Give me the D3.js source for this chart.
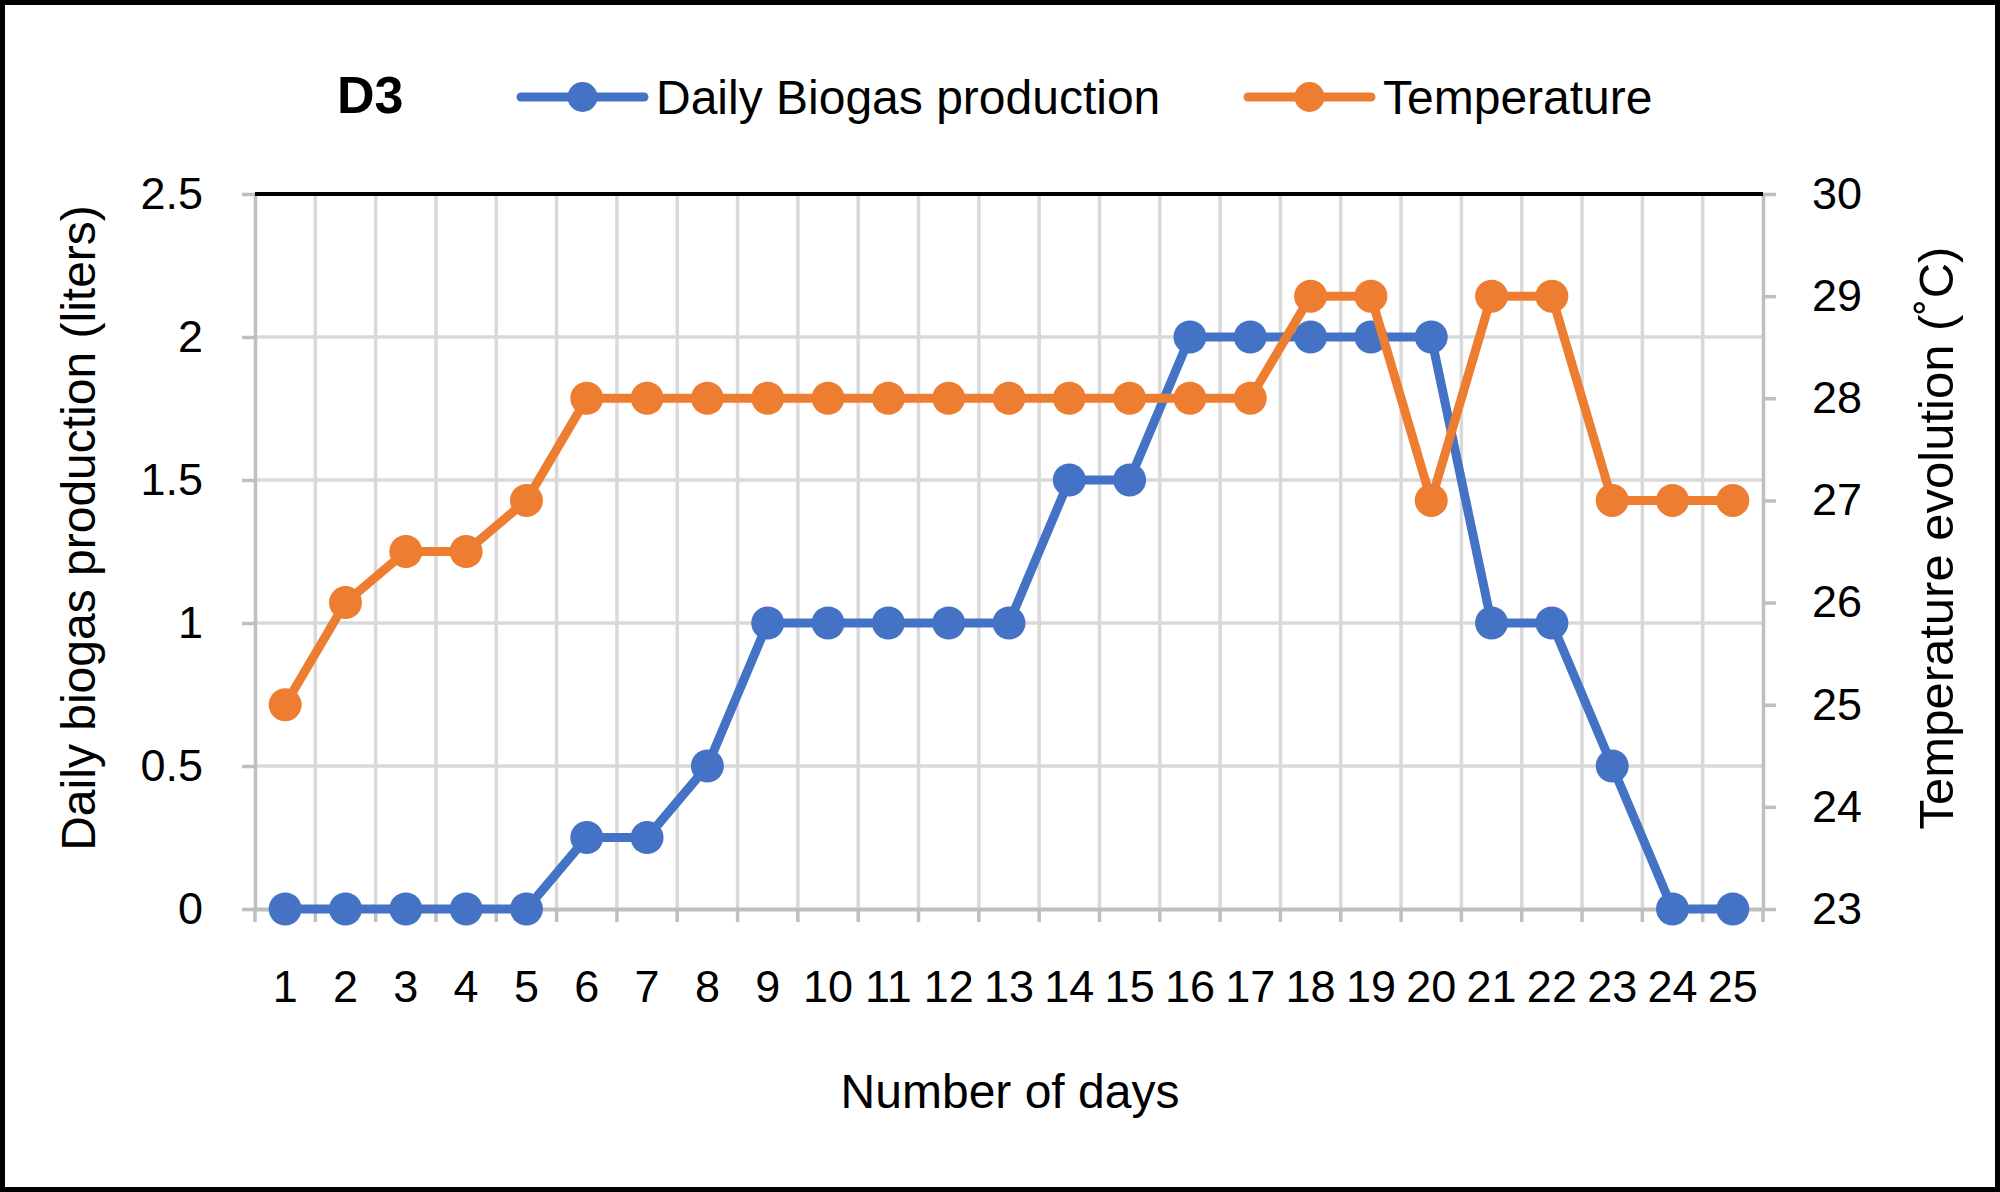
<!DOCTYPE html>
<html><head><meta charset="utf-8">
<script src="https://cdn.jsdelivr.net/npm/d3@7"></script>
<style>
html,body{margin:0;padding:0;background:#fff;}
svg{display:block;font-family:"Liberation Sans",Arial,sans-serif;}
</style></head>
<body>
<svg id="chart" width="2000" height="1192"></svg>
<script>
const days = ["1","2","3","4","5","6","7","8","9","10","11","12","13","14","15","16","17","18","19","20","21","22","23","24","25"];
const biogas = [0,0,0,0,0,0.25,0.25,0.5,1,1,1,1,1,1.5,1.5,2,2,2,2,2,1,1,0.5,0,0];
const temperature = [25,26,26.5,26.5,27,28,28,28,28,28,28,28,28,28,28,28,28,29,29,27,29,29,27,27,27];
const leftTicks = [0,0.5,1,1.5,2,2.5];
const rightTicks = [23,24,25,26,27,28,29,30];
const seriesNames = ["Daily Biogas production","Temperature"];
const chartTitle = "D3";
const xTitle = "Number of days";
const yLeftTitle = "Daily biogas production (liters)";
const yRightTitle = "Temperature evolution (˚C)";

const BLUE = "#4472C4", ORANGE = "#ED7D31";
const L = 255, R = 1763, T = 194, B = 909;
const svg = d3.select("#chart");

svg.append("rect").attr("x",2.5).attr("y",2.5).attr("width",1995).attr("height",1187)
  .attr("fill","#fff").attr("stroke","#000").attr("stroke-width",5);

const x = d3.scaleBand().domain(days).range([L,R]).padding(0);
const bw = x.bandwidth();
const y1 = d3.scaleLinear().domain([0,2.5]).range([B,T]);
const y2 = d3.scaleLinear().domain([23,30]).range([B,T]);

// horizontal grid
svg.append("g").selectAll("line").data(leftTicks.slice(1,-1)).join("line")
  .attr("x1",L).attr("x2",R).attr("y1",d=>y1(d)).attr("y2",d=>y1(d))
  .attr("stroke","#d9d9d9").attr("stroke-width",3.5);
// vertical grid at band boundaries
const bounds = days.map(d=>x(d)).concat([R]);
svg.append("g").selectAll("line").data(bounds.slice(1,-1)).join("line")
  .attr("x1",d=>d).attr("x2",d=>d).attr("y1",T).attr("y2",B)
  .attr("stroke","#d9d9d9").attr("stroke-width",3.5);
// x tick marks
svg.append("g").selectAll("line").data(bounds).join("line")
  .attr("x1",d=>d).attr("x2",d=>d).attr("y1",B).attr("y2",B+13)
  .attr("stroke","#bfbfbf").attr("stroke-width",3.5);

function styleAxis(g){
  g.select(".domain").attr("stroke","#bfbfbf").attr("stroke-width",3.5);
  g.selectAll(".tick line").attr("stroke","#bfbfbf").attr("stroke-width",3.5);
  g.selectAll(".tick text").attr("fill","#000").style("font-size","45px")
   .style("font-family","'Liberation Sans',Arial,sans-serif");
}
// left axis
const gl = svg.append("g").attr("transform",`translate(${L},0)`)
  .call(d3.axisLeft(y1).tickValues(leftTicks).tickFormat(d3.format("")).tickSizeInner(13).tickSizeOuter(0).tickPadding(39));
styleAxis(gl);
// right axis
const gr = svg.append("g").attr("transform",`translate(${R},0)`)
  .call(d3.axisRight(y2).tickValues(rightTicks).tickFormat(d3.format("d")).tickSizeInner(13).tickSizeOuter(0).tickPadding(36));
styleAxis(gr);
// bottom axis
const gb = svg.append("g").attr("transform",`translate(0,${B})`)
  .call(d3.axisBottom(x).tickSize(0).tickPadding(61));
styleAxis(gb);
gb.select(".domain").attr("stroke","#bfbfbf").attr("stroke-width",4);

// top black border line
svg.append("line").attr("x1",L).attr("x2",R).attr("y1",T).attr("y2",T)
  .attr("stroke","#000").attr("stroke-width",4);

// series
const cx = d=>x(d)+bw/2;
const lineB = d3.line().x((v,i)=>cx(days[i])).y(v=>y1(v));
const lineT = d3.line().x((v,i)=>cx(days[i])).y(v=>y2(v));
svg.append("path").datum(biogas).attr("d",lineB).attr("fill","none")
  .attr("stroke",BLUE).attr("stroke-width",9).attr("stroke-linejoin","round");
svg.append("g").selectAll("circle").data(biogas).join("circle")
  .attr("cx",(v,i)=>cx(days[i])).attr("cy",v=>y1(v)).attr("r",16.5).attr("fill",BLUE);
svg.append("path").datum(temperature).attr("d",lineT).attr("fill","none")
  .attr("stroke",ORANGE).attr("stroke-width",9).attr("stroke-linejoin","round");
svg.append("g").selectAll("circle").data(temperature).join("circle")
  .attr("cx",(v,i)=>cx(days[i])).attr("cy",v=>y2(v)).attr("r",16.5).attr("fill",ORANGE);

// title
svg.append("text").attr("x",337).attr("y",113).text(chartTitle)
  .style("font-size","52px").style("font-weight","bold").attr("fill","#000");

// legend
const legend = [
  {name:seriesNames[0], color:BLUE, x1:521, x2:644, tx:656},
  {name:seriesNames[1], color:ORANGE, x1:1248, x2:1371, tx:1383}
];
legend.forEach(l=>{
  svg.append("line").attr("x1",l.x1).attr("x2",l.x2).attr("y1",97).attr("y2",97)
    .attr("stroke",l.color).attr("stroke-width",9).attr("stroke-linecap","round");
  svg.append("circle").attr("cx",(l.x1+l.x2)/2).attr("cy",97).attr("r",15).attr("fill",l.color);
  svg.append("text").attr("x",l.tx).attr("y",114).text(l.name)
    .style("font-size","48px").attr("fill","#000");
});

// axis titles
svg.append("text").attr("x",1010).attr("y",1108).attr("text-anchor","middle")
  .text(xTitle).style("font-size","48px").attr("fill","#000");
svg.append("text").attr("transform","translate(95,528) rotate(-90)").attr("text-anchor","middle")
  .text(yLeftTitle).style("font-size","48px").attr("fill","#000");
svg.append("text").attr("transform","translate(1953,538) rotate(-90)").attr("text-anchor","middle")
  .text(yRightTitle).style("font-size","49px").attr("fill","#000");
</script>
</body></html>
